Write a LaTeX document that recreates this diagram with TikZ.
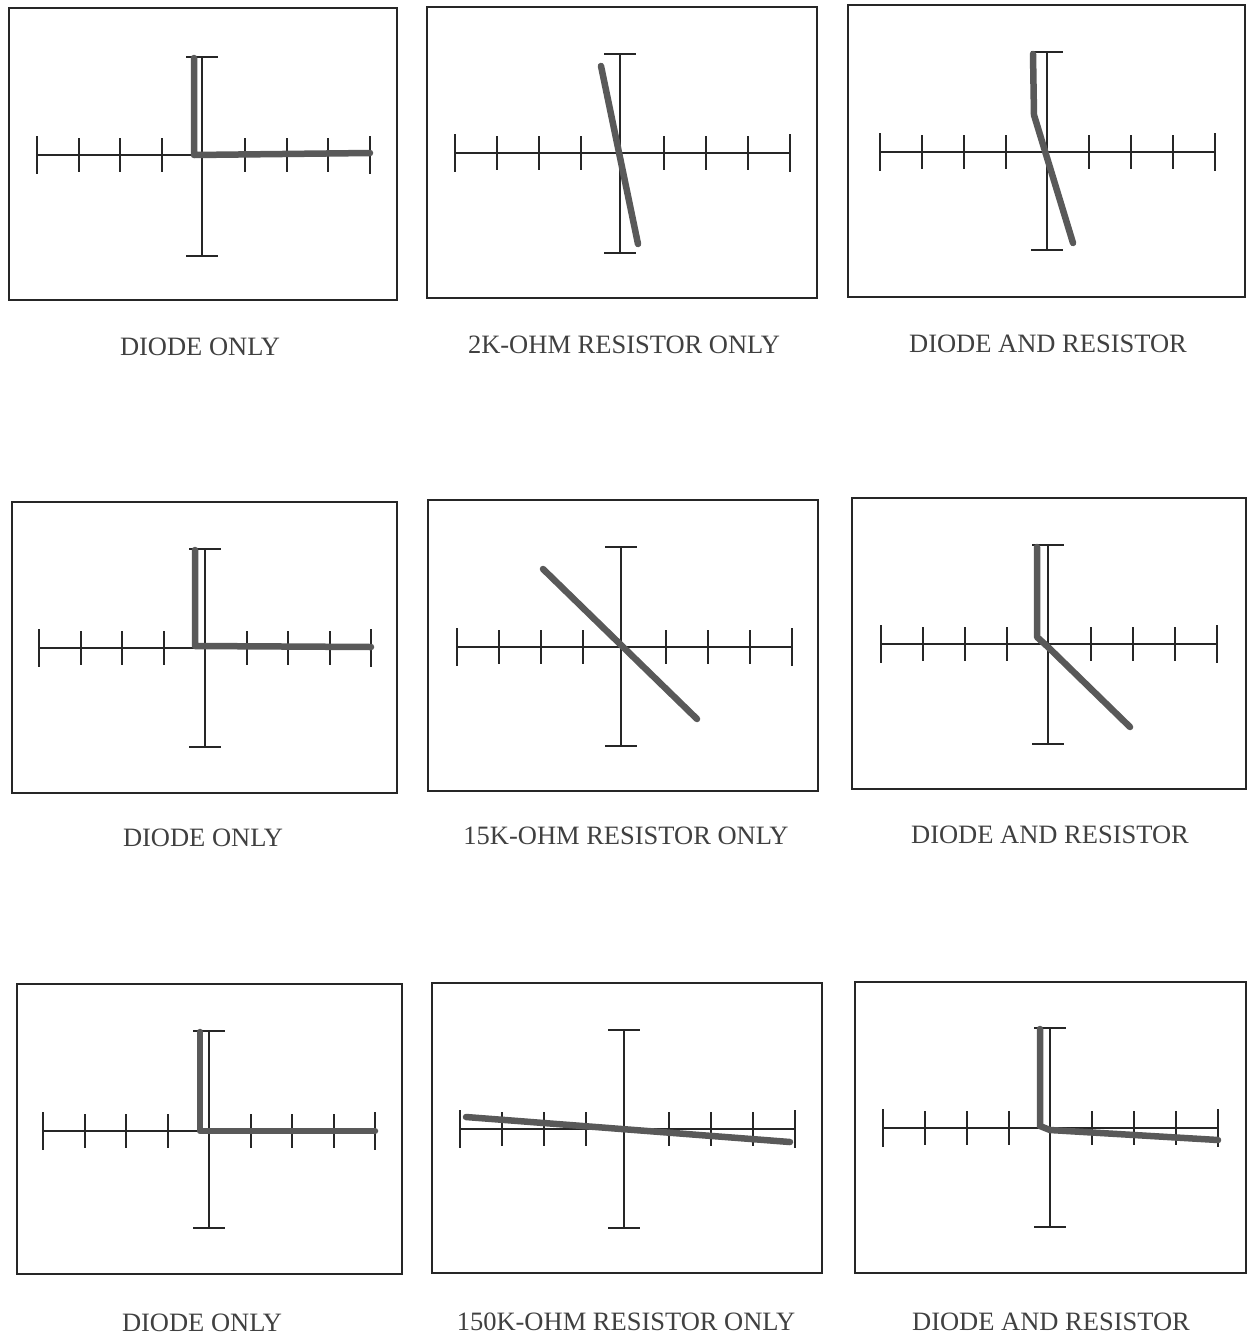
\documentclass[tikz,border=0pt]{standalone}
\usepackage{fontspec}
\setmainfont{Liberation Serif}
\begin{document}
\begin{tikzpicture}[x=1pt,y=-1pt,
  frame/.style={draw=black!85,line width=2pt},
  axisline/.style={draw=black!85,line width=1.6pt},
  tickmark/.style={draw=black!85,line width=2pt},
  trace/.style={draw=black!65,line width=6.5pt,line cap=round,line join=round},
  caption/.style={font=\fontsize{26.5}{30}\selectfont,text=black!75,inner sep=0pt}]
\useasboundingbox[fill=white] (0,0) rectangle (1248,1339);
% \scopeaxes{cx}{cy}{hw}{vx}{top}{bot}
\newcommand\scopeaxes[6]{%
  \draw[axisline] (#1-#3,#2) -- (#1+#3,#2);
  \foreach \k in {-3,-2,-1,1,2,3} {\draw[tickmark] (#1+\k*#3/4,#2-17) -- (#1+\k*#3/4,#2+17);}
  \draw[tickmark,line width=2.5pt] (#1-#3,#2-19) -- (#1-#3,#2+19);
  \draw[tickmark,line width=2.5pt] (#1+#3,#2-19) -- (#1+#3,#2+19);
  \draw[axisline] (#4,#5) -- (#4,#6);
  \draw[tickmark] (#4-16,#5) -- (#4+16,#5);
  \draw[tickmark] (#4-16,#6) -- (#4+16,#6);}
% row 1
\draw[frame] (9,8) rectangle (397,300);
\scopeaxes{203.5}{155}{166.5}{202}{57}{256}
\draw[trace] (194,58) -- (194,155) -- (370,153);
\draw[frame] (427,7) rectangle (817,298);
\scopeaxes{622.5}{153}{167.5}{620}{54}{253}
\draw[trace] (601,66) -- (638,244);
\draw[frame] (848,5) rectangle (1245,297);
\scopeaxes{1047.5}{152}{167.5}{1047}{52}{250}
\draw[trace] (1033,54) -- (1034,115) -- (1073,243);
\node[caption] (c1) at (200,347) {DIODE ONLY};
\node[caption] (c2) at (624,345) {2K-OHM RESISTOR ONLY};
\node[caption] (c3) at (1048,344) {DIODE AND RESISTOR};
% row 2
\draw[frame] (12,502) rectangle (397,793);
\scopeaxes{205}{648}{166}{205}{549}{747}
\draw[trace] (195,550) -- (195,646) -- (371,647);
\draw[frame] (428,500) rectangle (818,791);
\scopeaxes{624.5}{647}{167.5}{621}{547}{746}
\draw[trace] (543,569) -- (697,719);
\draw[frame] (852,498) rectangle (1246,789);
\scopeaxes{1049}{644}{168}{1048}{545}{744}
\draw[trace] (1037,547) -- (1037,637) -- (1048,647) -- (1130,727);
\node[caption] (c4) at (203,838) {DIODE ONLY};
\node[caption] (c5) at (626,836) {15K-OHM RESISTOR ONLY};
\node[caption] (c6) at (1050,835) {DIODE AND RESISTOR};
% row 3
\draw[frame] (17,984) rectangle (402,1274);
\scopeaxes{209}{1131}{166}{209}{1031}{1228}
\draw[trace] (200,1032) -- (200,1131) -- (375,1131);
\draw[frame] (432,983) rectangle (822,1273);
\scopeaxes{627.5}{1129}{167.5}{624}{1030}{1228}
\draw[trace] (466,1117) -- (790,1142);
\draw[frame] (855,982) rectangle (1246,1273);
\scopeaxes{1050.5}{1128}{167.5}{1050}{1028}{1227}
\draw[trace] (1040,1029) -- (1040,1126) -- (1050,1130) -- (1218,1140);
\node[caption] (c7) at (202,1323) {DIODE ONLY};
\node[caption] (c8) at (626,1322) {150K-OHM RESISTOR ONLY};
\node[caption] (c9) at (1051,1322) {DIODE AND RESISTOR};
\end{tikzpicture}
\end{document}
